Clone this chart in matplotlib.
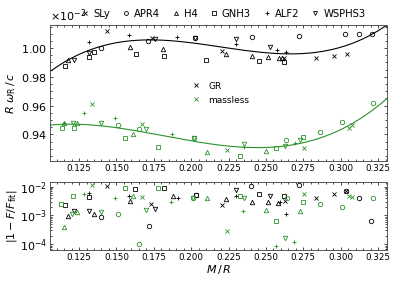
import numpy as np
import matplotlib
matplotlib.use('Agg')
import matplotlib.pyplot as plt
from matplotlib.lines import Line2D
from matplotlib.ticker import AutoMinorLocator, LogLocator, NullFormatter, ScalarFormatter

eos_names = ['SLy', 'APR4', 'H4', 'GNH3', 'ALF2', 'WSPHS3']
eos_markers = ['x', 'o', '^', 's', '+', 'v']

# top panel: R omega_R / c  (in units of 1e-2), GR
gr_x = {
    'SLy': [0.1435, 0.1736, 0.2204, 0.2621, 0.2833, 0.2958, 0.3041],
    'APR4': [0.1397, 0.1712, 0.2026, 0.2405, 0.2724, 0.3032, 0.3121, 0.3208],
    'H4': [0.1176, 0.1589, 0.1814, 0.2231, 0.2407, 0.2514, 0.2590, 0.2605],
    'GNH3': [0.1158, 0.1317, 0.1350, 0.1631, 0.1819, 0.2097, 0.2456, 0.2621],
    'ALF2': [0.1317, 0.1586, 0.1906, 0.2300, 0.2572, 0.2635],
    'WSPHS3': [0.1217, 0.1317, 0.1758, 0.2026, 0.2300, 0.2528],
}
gr_y = {
    'SLy': [1.012, 1.007, 0.9979, 0.9928, 0.9933, 0.9942, 0.9956],
    'APR4': [0.9998, 1.0049, 1.0070, 1.0074, 1.0086, 1.0100, 1.0100, 1.0097],
    'H4': [0.9917, 1.0005, 0.9991, 0.9956, 0.9942, 0.9935, 0.9930, 0.9930],
    'GNH3': [0.9875, 0.9935, 0.9975, 0.9958, 0.9947, 0.9917, 0.9910, 0.9905],
    'ALF2': [1.004, 1.009, 1.0076, 1.0032, 0.9986, 0.9972],
    'WSPHS3': [0.9920, 0.9967, 1.0065, 1.0072, 1.0065, 1.0005],
}
# top panel, massless
ml_x = {
    'SLy': [0.1337, 0.1669, 0.2242, 0.2753, 0.3054, 0.3076],
    'APR4': [0.1509, 0.1649, 0.2017, 0.2635, 0.2860, 0.3009, 0.3217],
    'H4': [0.1150, 0.1237, 0.1609, 0.2104, 0.2501],
    'GNH3': [0.1134, 0.1214, 0.1558, 0.1780, 0.2327, 0.2566, 0.2750],
    'ALF2': [0.1150, 0.1283, 0.1493, 0.1870, 0.2354, 0.2693],
    'WSPHS3': [0.1212, 0.1395, 0.1700, 0.2017, 0.2354, 0.2630, 0.2728],
}
ml_y = {
    'SLy': [0.961, 0.9474, 0.9293, 0.9307, 0.9446, 0.9463],
    'APR4': [0.9463, 0.9439, 0.9372, 0.9360, 0.9418, 0.9483, 0.9617],
    'H4': [0.9476, 0.9476, 0.9404, 0.9275, 0.9284],
    'GNH3': [0.9446, 0.9446, 0.9376, 0.9310, 0.9247, 0.9303, 0.9381],
    'ALF2': [0.9476, 0.9550, 0.9515, 0.9404, 0.9310, 0.9337],
    'WSPHS3': [0.9476, 0.9480, 0.9439, 0.9372, 0.9333, 0.9321, 0.9360],
}

# fit curves, sampled from the figure
fit_gr_x = [0.1051, 0.1390, 0.1736, 0.2059, 0.2280, 0.2615, 0.2840, 0.3063, 0.3308]
fit_gr_y = [0.9835, 1.0009, 1.0049, 1.0040, 0.9998, 0.9958, 0.9963, 1.0033, 1.0160]
fit_ml_x = [0.1051, 0.1290, 0.1558, 0.1814, 0.2015, 0.2238, 0.2461, 0.2750, 0.2974, 0.3308]
fit_ml_y = [0.9442, 0.9499, 0.9449, 0.9395, 0.9337, 0.9296, 0.9296, 0.9360, 0.9449, 0.9631]

# bottom panel: log10 |1 - F/F_fit|
gr_rx = {
    'SLy': [0.1435, 0.1732, 0.2205, 0.2626, 0.2835, 0.2956, 0.3034],
    'APR4': [0.1397, 0.1716, 0.2031, 0.2403, 0.2722, 0.3034, 0.3121, 0.3203],
    'H4': [0.1174, 0.1352, 0.1593, 0.1877, 0.2233, 0.2405, 0.2512, 0.2579],
    'GNH3': [0.1158, 0.1319, 0.1627, 0.1821, 0.2031, 0.2456, 0.2623],
    'ALF2': [0.1319, 0.1586, 0.1910, 0.2298, 0.2594, 0.2633],
    'WSPHS3': [0.1219, 0.1315, 0.1760, 0.2302, 0.2530],
}
gr_rlog = {
    'SLy': [-1.98, -2.59, -2.63, -2.50, -2.38, -2.26, -2.14],
    'APR4': [-3.07, -3.37, -2.30, -1.99, -1.93, -2.14, -2.40, -3.18],
    'H4': [-3.03, -2.95, -2.49, -2.32, -2.43, -2.54, -2.55, -2.57],
    'GNH3': [-2.65, -2.37, -2.08, -2.03, -2.29, -2.25, -2.31],
    'ALF2': [-2.21, -2.31, -2.40, -2.32, -2.53, -2.94],
    'WSPHS3': [-2.84, -2.84, -2.79, -2.11, -2.34],
}
ml_rx = {
    'SLy': [0.1337, 0.1669, 0.2240, 0.2755, 0.3056, 0.3078],
    'APR4': [0.1509, 0.1649, 0.2015, 0.2639, 0.2860, 0.3007, 0.3219],
    'H4': [0.1150, 0.1239, 0.1609, 0.2106, 0.2501, 0.2730],
    'GNH3': [0.1130, 0.1212, 0.1558, 0.1780, 0.2329, 0.2570, 0.2748],
    'ALF2': [0.1285, 0.1493, 0.1865, 0.2349, 0.2568, 0.2690],
    'WSPHS3': [0.1205, 0.1397, 0.1700, 0.2015, 0.2356, 0.2630],
}
ml_rlog = {
    'SLy': [-1.94, -2.37, -3.54, -2.26, -2.31, -2.37],
    'APR4': [-2.95, -3.98, -2.40, -2.39, -2.59, -2.69, -2.40],
    'H4': [-3.39, -2.88, -2.33, -2.38, -2.80, -2.84],
    'GNH3': [-2.60, -2.34, -2.03, -2.03, -2.31, -3.18, -2.54],
    'ALF2': [-2.25, -2.39, -2.52, -2.84, -4.06, -3.92],
    'WSPHS3': [-2.95, -2.87, -2.81, -2.40, -2.38, -3.78],
}

green = '#2a922a'
groups = [(gr_x, gr_y, gr_rx, gr_rlog, fit_gr_x, fit_gr_y, 'k'),
          (ml_x, ml_y, ml_rx, ml_rlog, fit_ml_x, fit_ml_y, green)]

fig = plt.figure(figsize=(4.07, 2.82), dpi=100)
ax1 = fig.add_axes([0.123, 0.429, 0.828, 0.482])
ax2 = fig.add_axes([0.123, 0.1135, 0.828, 0.241])

ms = 3.2
for xs, ys, rxs, rls, fx, fy, col in groups:
    for name, mk in zip(eos_names, eos_markers):
        ax1.plot(xs[name], np.array(ys[name]) * 1e-2, mk, ms=ms, mfc='none',
                 mec=col, mew=0.6, ls='none')
        ax2.plot(rxs[name], 10.0 ** np.array(rls[name]), mk, ms=ms, mfc='none',
                 mec=col, mew=0.6, ls='none')
    # smooth cubic through the sampled curve
    c = np.polyfit(fx, np.array(fy) * 1e-2, 3)
    xx = np.linspace(0.1, 0.335, 300)
    ax1.plot(xx, np.polyval(c, xx), '-', color=col, lw=0.8)

for ax in (ax1, ax2):
    ax.set_xlim(0.1056, 0.331)
    ax.set_xticks([0.125, 0.150, 0.175, 0.200, 0.225, 0.250, 0.275, 0.300, 0.325])
    ax.tick_params(which='both', direction='in', top=True, right=True, width=0.5)
    ax.tick_params(which='major', length=2.5)
    ax.tick_params(which='minor', length=1.5)
    ax.tick_params(axis='x', labelsize=6.3, pad=2)
    ax.tick_params(axis='y', labelsize=8, pad=2)
    ax.xaxis.set_minor_locator(AutoMinorLocator(5))
    for s in ax.spines.values():
        s.set_color('#555555'); s.set_linewidth(0.7)

ax1.set_ylim(0.009215, 0.01016)
ax1.set_yticks([0.0094, 0.0096, 0.0098, 0.0100])
ax1.yaxis.set_minor_locator(AutoMinorLocator(4))
fmt = ScalarFormatter(useMathText=True)
fmt.set_powerlimits((0, 0))
ax1.yaxis.set_major_formatter(fmt)
ax1.yaxis.get_offset_text().set_fontsize(8)
ax1.set_ylabel(r'$R\ \omega_{\rm R}\,/\,c$', fontsize=8, labelpad=2)

ax2.set_yscale('log')
ax2.set_ylim(10 ** -4.2, 10 ** -1.84)
ax2.set_yticks([1e-4, 1e-3, 1e-2])
ax2.yaxis.set_minor_locator(LogLocator(base=10, subs=np.arange(2, 10)))
ax2.yaxis.set_minor_formatter(NullFormatter())
ax2.set_ylabel(r'$|1-F/F_{\rm fit}|$', fontsize=8, labelpad=1)
ax2.set_xlabel(r'$M\,/\,R$', fontsize=8, labelpad=1)

handles = [Line2D([], [], marker=m, ls='none', mfc='none', mec='k', ms=2.8, mew=0.6)
           for m in eos_markers]
fig.legend(handles, eos_names, loc='center', bbox_to_anchor=(0.548, 0.952), ncol=6,
           frameon=False, fontsize=7.2, handletextpad=0.3, columnspacing=1.1,
           handlelength=1.0, borderpad=0.1)

h2 = [Line2D([], [], marker='x', ls='none', mec='k', ms=3, mew=0.6),
      Line2D([], [], marker='x', ls='none', mec=green, ms=3, mew=0.6)]
ax1.legend(h2, ['GR', 'massless'], loc='center left', bbox_to_anchor=(0.39, 0.5),
           frameon=False, fontsize=6.5, handlelength=1.5, handletextpad=0.6,
           labelspacing=0.55)

fig.savefig('out.png', dpi=100)
